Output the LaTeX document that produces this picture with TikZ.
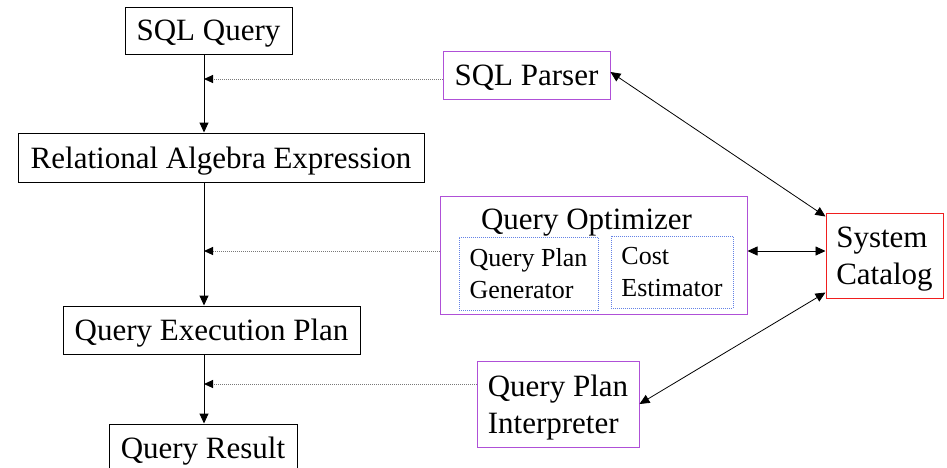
\documentclass[tikz,border=0pt]{standalone}
\usepackage{fontspec}
\setmainfont{Liberation Serif}
\newfontfamily\timesfam{Liberation Serif}
\usetikzlibrary{arrows.meta}
\definecolor{purp}{RGB}{175,80,215}
\definecolor{dotblue}{RGB}{100,130,230}
\definecolor{catred}{RGB}{240,30,30}
\definecolor{dotgray}{RGB}{120,120,120}
\begin{document}
\begin{tikzpicture}[x=1pt,y=-1pt,
  bigtxt/.style={font=\timesfam\fontsize{31}{37.5}\selectfont, text depth=0pt},
  smalltxt/.style={font=\timesfam\fontsize{26}{32}\selectfont, text depth=0pt},
  blackbox/.style={draw=black, line width=1pt, inner sep=0pt, bigtxt},
  purpbox/.style={draw=purp, line width=1pt, inner sep=0pt, bigtxt, align=left},
  innerbox/.style={draw=dotblue, line width=0.8pt, dash pattern=on 1pt off 1pt, inner sep=0pt, smalltxt, align=left},
  catbox/.style={draw=catred, line width=1pt, inner sep=0pt, bigtxt, align=left},
  flow/.style={line width=1pt, -{Triangle[length=10pt,width=9pt]}},
  feed/.style={draw=dotgray, line width=1pt, dash pattern=on 1pt off 1pt, -{Triangle[length=9pt,width=8pt,color=black]}},
  link/.style={line width=0.8pt, {Triangle[length=10pt,width=9pt]}-{Triangle[length=10pt,width=9pt]}}]
\useasboundingbox (0,0) rectangle (947,467);
\clip (0,0) rectangle (947,467);
\fill[white] (0,0) rectangle (947,467);

\node[blackbox, minimum width=167pt, minimum height=47pt] (sqlq) at (208.5,30.5) {SQL Query};
\node[purpbox, minimum width=167pt, minimum height=48pt] (parser) at (526.5,75) {SQL Parser};
\node[blackbox, minimum width=406pt, minimum height=49pt] (rae) at (221,157.5) {Relational Algebra Expression};
\node[purpbox, minimum width=307pt, minimum height=118pt] (qo) at (593.5,255) {};
\node[bigtxt, inner sep=0pt] (qotitle) at (586.5,219) {Query Optimizer};
\node[innerbox, minimum width=139pt, minimum height=73pt] (qpg) at (528.5,273.5) {Query Plan\\Generator};
\node[innerbox, minimum width=122pt, minimum height=72pt] (ce) at (672,272) {Cost\\Estimator};
\node[catbox, minimum width=117pt, minimum height=85pt] (catalog) at (884.5,255.5) {System\\Catalog};
\node[blackbox, minimum width=297pt, minimum height=48pt] (qep) at (211.5,330) {Query Execution Plan};
\node[purpbox, minimum width=162pt, minimum height=86pt] (qpi) at (558,404) {Query Plan\\Interpreter};
\node[blackbox, minimum width=188pt, minimum height=48pt] (qr) at (203,448) {Query Result};

\coordinate (spine) at (204,0);
\coordinate (j1) at (204,79);
\coordinate (j2) at (204,251);
\coordinate (j3) at (204,384);

\draw[flow] (sqlq.south -| spine) -- (rae.north -| spine);
\draw[flow] (rae.south -| spine) -- (qep.north -| spine);
\draw[flow] (qep.south -| spine) -- (qr.north -| spine);

\draw[feed] (parser.west |- j1) -- (j1);
\draw[feed] (qo.west |- j2) -- (j2);
\draw[feed] (qpi.west |- j3) -- (j3);

\draw[link] ([yshift=3pt]parser.east) -- ([yshift=-4pt]catalog.north west);
\draw[link] ([yshift=4pt]qo.east) -- ([yshift=4.5pt]catalog.west);
\draw[link] (qpi.east) -- ([yshift=6pt]catalog.south west);
\end{tikzpicture}
\end{document}
